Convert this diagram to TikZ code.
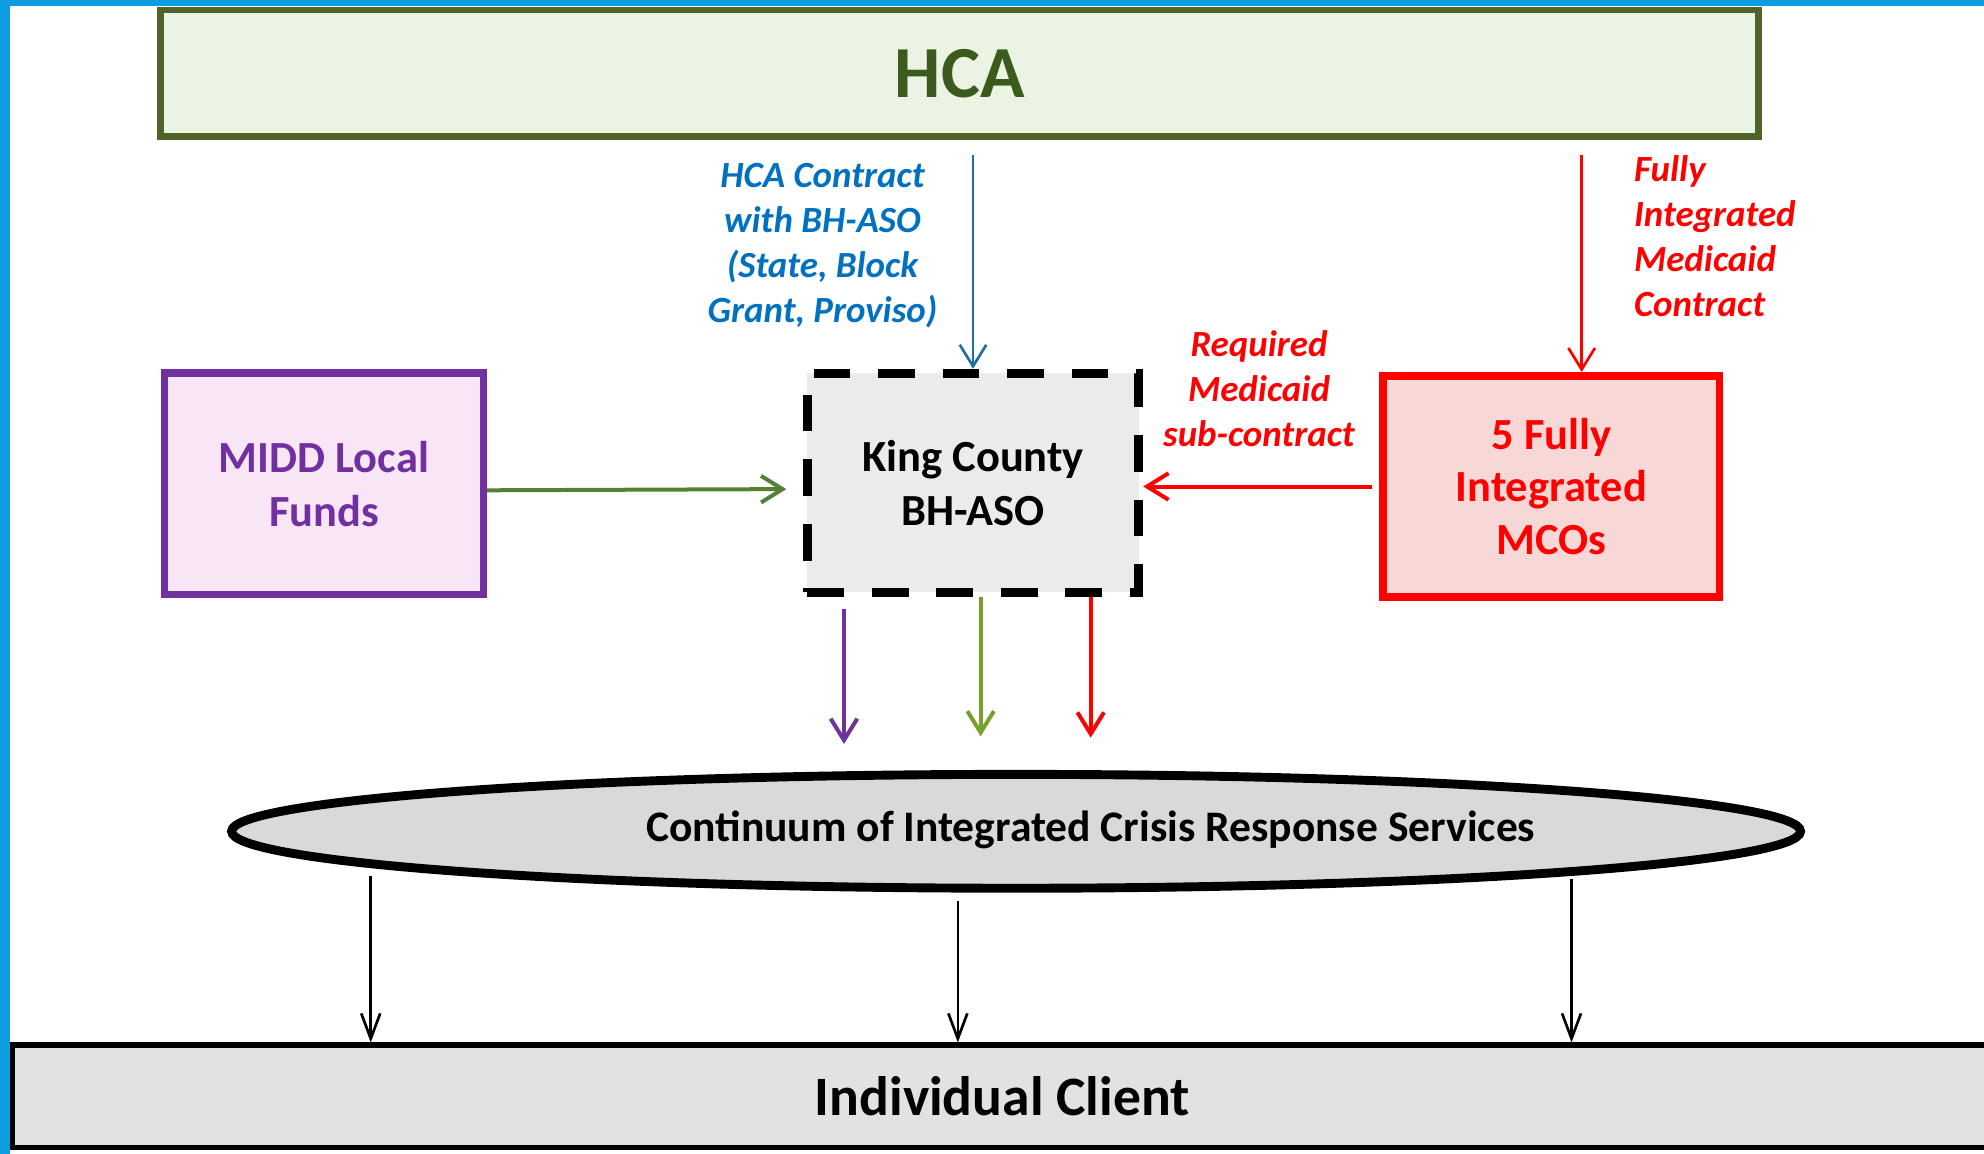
\documentclass[tikz,border=0pt]{standalone}
\usepackage{fontspec}
\setmainfont{Carlito}
\usepackage{xcolor}
\usepackage{tikz}
\usetikzlibrary{arrows.meta,shapes.geometric}
\definecolor{frameblue}{HTML}{0E9DE0}
\definecolor{hcagreen}{HTML}{4F6228}
\definecolor{hcatext}{HTML}{3A5A1E}
\definecolor{hcafill}{HTML}{EBF4E3}
\definecolor{hcablue}{HTML}{0070C0}
\definecolor{asoblue}{HTML}{1F6EA6}
\definecolor{middpurple}{HTML}{7030A0}
\definecolor{middfill}{HTML}{F8E6F6}
\definecolor{middgreen}{HTML}{548235}
\definecolor{olivegreen}{HTML}{77A02F}
\definecolor{mcored}{HTML}{FF0000}
\definecolor{mcofill}{HTML}{F8D8D6}
\definecolor{asofill}{HTML}{EBEBEB}
\definecolor{crisisfill}{HTML}{D9D9D9}
\definecolor{clientfill}{HTML}{E2E2E2}

\begin{document}
\begin{tikzpicture}[>={Straight Barb[length=1.7mm,width=2.1mm]},
  box/.style={draw, rectangle, inner sep=0pt, align=center,
    font=\bfseries\fontsize{10}{12.2}\selectfont},
  lbl/.style={font=\bfseries\itshape\fontsize{8.3}{10.1}\selectfont}]
\useasboundingbox (0,0) rectangle (15.68,9.12);
% --- Frame ---
\fill[frameblue] (0,0) rectangle (0.08,9.12);
\fill[frameblue] (0,9.07) rectangle (15.68,9.12);

% --- Top: HCA ---
\node[box, draw=hcagreen, line width=1.5pt, fill=hcafill, text=hcatext,
  minimum width=12.63cm, minimum height=1.0cm,
  font=\bfseries\fontsize{16.5}{20}\selectfont] (hca) at (7.585, 8.54) {HCA};

% --- Middle row ---
\node[box, draw=middpurple, line width=1.7pt, fill=middfill, text=middpurple,
  minimum width=2.52cm, minimum height=1.75cm] (midd) at (2.56, 5.295)
  {MIDD Local\\Funds};
\node[box, draw=black, line width=2pt, dash pattern=on 0.29cm off 0.22cm,
  fill=asofill, minimum width=2.62cm, minimum height=1.73cm] (kc) at (7.69, 5.305)
  {King County\\BH-ASO};
\node[box, draw=mcored, line width=1.7pt, fill=mcofill, text=mcored,
  minimum width=2.66cm, minimum height=1.75cm,
  font=\bfseries\fontsize{10}{11.8}\selectfont] (mco) at (12.26, 5.275)
  {5 Fully\\Integrated\\MCOs};

% --- Crisis services and client ---
\node[draw=black, ellipse, line width=2pt, fill=crisisfill, inner sep=0pt,
  minimum width=12.4cm, minimum height=0.9cm] (crisis) at (8.03, 2.55) {};
\node[font=\bfseries\fontsize{9.8}{11}\selectfont] (crisistxt) at (8.62, 2.56)
  {Continuum of Integrated Crisis Response Services};
\node[box, draw=black, line width=1.2pt, fill=clientfill,
  minimum width=15.64cm, minimum height=0.81cm,
  font=\bfseries\fontsize{12.5}{15}\selectfont] (client) at (7.92, 0.455)
  {Individual Client};

% --- Contracts from HCA ---
\draw[->, line width=0.6pt, asoblue, shorten <=0.12cm] (kc.north |- hca.south) -- (kc.north);
\node[lbl, text=hcablue, align=center] (hcalbl) at (6.50, 7.18)
  {HCA Contract\\with BH-ASO\\(State, Block\\Grant, Proviso)};
\coordinate (mcotop) at ([xshift=0.24cm]mco.north);
\draw[->, line width=0.6pt, mcored, shorten <=0.12cm] (hca.south -| mcotop) -- (mcotop);
\node[lbl, text=mcored, align=left, anchor=west] (fimclbl) at (12.79, 7.255)
  {Fully\\Integrated\\Medicaid\\Contract};

% --- Into King County ---
\draw[->, line width=0.9pt, middgreen, shorten >=0.13cm]
  ([yshift=-0.05cm]midd.east) -- ([yshift=-0.05cm]kc.west);
\draw[->, line width=0.9pt, mcored, shorten <=0.06cm] (mco.west) -- (mco.west -| kc.east);
\node[lbl, text=mcored, align=center] (sublbl) at (9.95, 6.045)
  {Required\\Medicaid\\sub-contract};

% --- Funds down to crisis services ---
\coordinate (toP) at (6.67, 3.24);
\coordinate (toG) at (7.75, 3.30);
\coordinate (toR) at (8.62, 3.29);
\draw[->, line width=0.9pt, middpurple, shorten <=0.1cm] (kc.south -| toP) -- (toP);
\draw[->, line width=0.9pt, olivegreen] (kc.south -| toG) -- (toG);
\draw[->, line width=0.9pt, mcored] (kc.south -| toR) -- (toR);

% --- Services to the client ---
\coordinate (fromA) at (2.93, 2.20);
\coordinate (fromB) at (7.57, 2.00);
\coordinate (fromC) at (12.42, 2.17);
\draw[-{Straight Barb[length=2mm,width=1.5mm]}, line width=0.6pt] (fromA) -- (fromA |- client.north);
\draw[-{Straight Barb[length=2mm,width=1.5mm]}, line width=0.6pt] (fromB) -- (fromB |- client.north);
\draw[-{Straight Barb[length=2mm,width=1.5mm]}, line width=0.6pt] (fromC) -- (fromC |- client.north);
\end{tikzpicture}
\end{document}
